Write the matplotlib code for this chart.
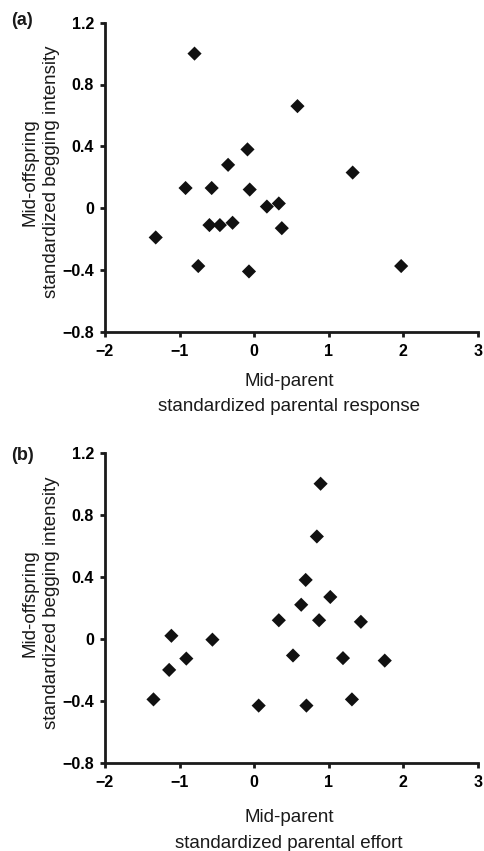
import matplotlib
matplotlib.use("Agg")
import matplotlib.pyplot as plt

plt.rcParams['font.family'] = ['Liberation Sans', 'DejaVu Sans']

# Panel (a): mid-parent standardized parental response vs mid-offspring begging
a_x = [-0.80, 0.58, -0.09, -0.35, 1.32, -0.92, -0.57, -0.06, 0.17, 0.33,
       -0.60, -0.46, -0.29, 0.37, -1.32, -0.75, -0.07, 1.97]
a_y = [1.00, 0.66, 0.38, 0.28, 0.23, 0.13, 0.13, 0.12, 0.01, 0.03,
       -0.11, -0.11, -0.095, -0.13, -0.19, -0.375, -0.41, -0.375]

# Panel (b): mid-parent standardized parental effort vs mid-offspring begging
b_x = [0.89, 0.84, 0.69, 1.02, 0.63, 0.33, 0.87, 1.43, -1.11, -0.56,
       -0.91, 0.52, 1.19, 1.75, -1.14, -1.35, 0.06, 0.70, 1.31]
b_y = [1.00, 0.66, 0.38, 0.27, 0.22, 0.12, 0.12, 0.11, 0.02, -0.005,
       -0.127, -0.107, -0.124, -0.14, -0.20, -0.39, -0.43, -0.43, -0.39]

x_ticks = [-2, -1, 0, 1, 2, 3]
x_tick_labels = ['\u22122', '\u22121', '0', '1', '2', '3']
y_ticks = [-0.8, -0.4, 0, 0.4, 0.8, 1.2]
y_tick_labels = ['\u22120.8', '\u22120.4', '0', '0.4', '0.8', '1.2']

y_label_lines = ['Mid-offspring', 'standardized begging intensity']
a_x_label_lines = ['Mid-parent', 'standardized parental response']
b_x_label_lines = ['Mid-parent', 'standardized parental effort']

W, H = 484, 851
fig = plt.figure(figsize=(W / 100, H / 100), dpi=100)

def fx(px):
    return px / W

def fy(py):
    return 1 - py / H

def make_axes(top_px, bottom_px, left_px=105, right_px=478):
    return fig.add_axes([fx(left_px), fy(bottom_px),
                         (right_px - left_px) / W, (bottom_px - top_px) / H])

LABEL_FS = 13.5
TICK_FS = 11.5
INK = '#1a1a1a'

panels = [
    # x, y, xlabel lines, tag, top, bottom, xlabel baselines, ylabel centre y, tag y
    (a_x, a_y, a_x_label_lines, '(a)', 22.7, 331.7, (385.5, 411.0), 172.0, 20.5),
    (b_x, b_y, b_x_label_lines, '(b)', 452.7, 763.0, (821.5, 847.5), 603.0, 455.5),
]

for xs, ys, xlines, tag, top, bottom, xbases, ycen, tagy in panels:
    ax = make_axes(top, bottom)
    ax.scatter(xs, ys, marker='D', s=52, color='#111111', edgecolors='none',
               clip_on=False, zorder=3)
    ax.set_xlim(-2, 3)
    ax.set_ylim(-0.8, 1.2)
    ax.set_xticks(x_ticks)
    ax.set_xticklabels(x_tick_labels, fontsize=TICK_FS, fontweight='bold')
    ax.set_yticks(y_ticks)
    ax.set_yticklabels(y_tick_labels, fontsize=TICK_FS, fontweight='bold')
    for s in ['top', 'right']:
        ax.spines[s].set_visible(False)
    for s in ['left', 'bottom']:
        ax.spines[s].set_linewidth(2.0)
        ax.spines[s].set_color(INK)
    ax.tick_params(direction='out', length=3.5, width=2, color=INK)
    ax.tick_params(axis='y', pad=4.5)
    ax.tick_params(axis='x', pad=5)

    # x-axis label (two centred lines)
    for line, base in zip(xlines, xbases):
        fig.text(fx(289), fy(base), line, fontsize=LABEL_FS, ha='center',
                 va='baseline', color=INK)
    # y-axis label (two rotated lines)
    for line, base in zip(y_label_lines, (35.0, 56.5)):
        fig.text(fx(base), fy(ycen), line, fontsize=LABEL_FS, ha='center',
                 va='baseline', rotation=90, rotation_mode='anchor', color=INK)
    # panel tag
    fig.text(fx(11), fy(tagy), tag, fontsize=13, fontweight='bold',
             ha='left', va='center', color=INK)

fig.savefig('out.png', dpi=100, facecolor='white')
